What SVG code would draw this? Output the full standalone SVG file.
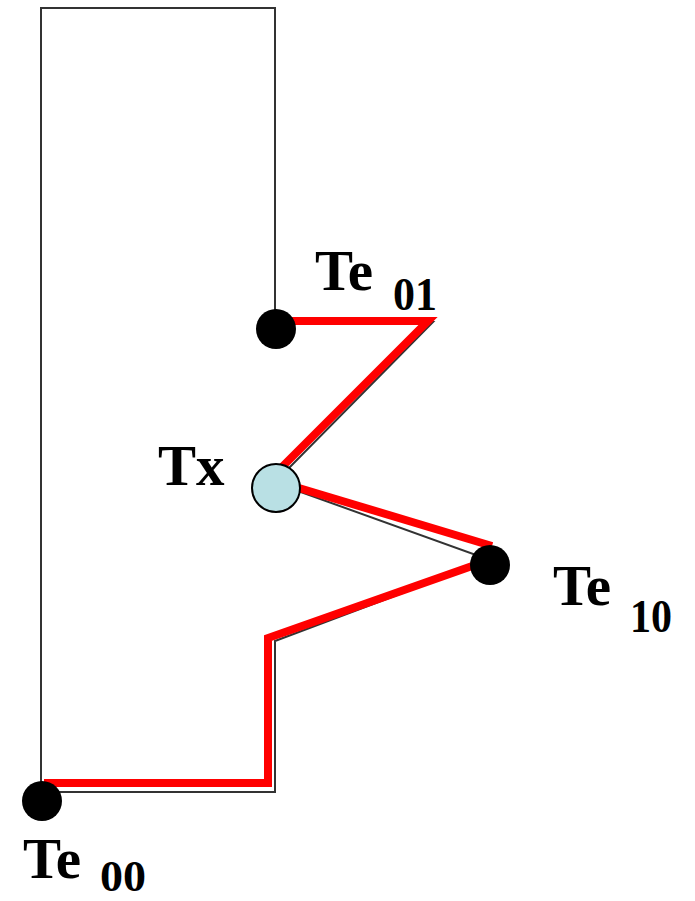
<svg xmlns="http://www.w3.org/2000/svg" width="695" height="901" viewBox="0 0 695 901">
<style>
.outline{fill:none;stroke:#333;stroke-width:2}
.red{fill:none;stroke:#ff0000;stroke-width:8;stroke-linejoin:miter;stroke-linecap:butt}
.dot{fill:#000}
.lbl{font-family:"Liberation Serif","Times New Roman",serif;font-weight:bold;fill:#000}
.big{font-size:57px}
.sub{font-size:47px}
</style>
<rect width="695" height="901" fill="#fff"/>
<g id="connectors">
<polyline class="outline" points="275,329 275,8 41,8 41,792 275,792 275,641 490,560 298,491"/>
<polyline class="outline" points="285,472 433,322 275,322"/>
<polyline class="red" points="268,321 428,321 282,467"/>
<polyline class="red" points="299,488 492,546"/>
<polyline class="red" points="492,559 268,638 268,783 44,783"/>
</g>
<g id="Te01">
<circle class="dot" cx="276" cy="329" r="20"/>
<text class="lbl big" x="315" y="290">Te</text>
<text class="lbl sub" x="393" y="310" textLength="44" lengthAdjust="spacingAndGlyphs">01</text>
</g>
<g id="Tx">
<circle cx="276" cy="488" r="24" fill="#b9e0e4" stroke="#000" stroke-width="2"/>
<text class="lbl big" x="158" y="485">Tx</text>
</g>
<g id="Te10">
<circle class="dot" cx="490" cy="565" r="20"/>
<text class="lbl big" x="553" y="605">Te</text>
<text class="lbl sub" x="630" y="632" textLength="42" lengthAdjust="spacingAndGlyphs">10</text>
</g>
<g id="Te00">
<circle class="dot" cx="42" cy="801" r="20"/>
<text class="lbl big" x="23" y="878">Te</text>
<text class="lbl" x="100" y="891" font-size="44" textLength="46" lengthAdjust="spacingAndGlyphs">00</text>
</g>
</svg>
